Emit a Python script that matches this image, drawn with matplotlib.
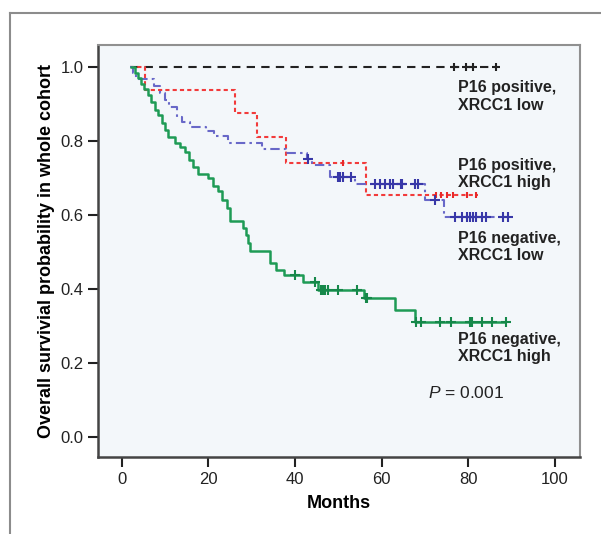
import numpy as np
import matplotlib
matplotlib.use("Agg")
from matplotlib import pyplot as plt
from matplotlib.lines import Line2D

plt.rcParams['font.family'] = ['Liberation Sans', 'DejaVu Sans']
plt.rcParams['mathtext.fontset'] = 'custom'
plt.rcParams['mathtext.it'] = 'Liberation Sans:italic'
plt.rcParams['mathtext.rm'] = 'Liberation Sans'

# Kaplan-Meier step data (months, survival after the drop)
START = 2.0

blackTimes = []
blackSurv = []
blackEnd = 86.5
blackCensor = [76.7, 79.4, 81.1, 86.5]

redTimes = [5.3, 26.1, 31.2, 37.9, 56.5]
redSurv = [0.9375, 0.875, 0.8125, 0.74, 0.655]
redEnd = 82.2
redCensor = [51.0, 72.5, 73.8, 75.0, 76.5, 79.6, 81.9]

blueTimes = [2.5, 3.3, 7.4, 8.8, 10.0, 10.8, 12.8, 13.8, 15.7, 19.5, 21.3, 24.5,
             32.4, 38.0, 42.7, 44.0, 48.0, 53.8, 70.0, 74.4]
blueSurv = [0.985, 0.967, 0.95, 0.93, 0.91, 0.893, 0.866, 0.852, 0.838, 0.828, 0.814, 0.794,
            0.78, 0.767, 0.753, 0.735, 0.703, 0.683, 0.641, 0.595]
blueEnd = 89.2
blueCensor = [43.0, 50.0, 50.5, 51.0, 53.0, 58.4, 59.6, 60.7, 61.9, 62.7, 64.4, 64.8,
              67.7, 68.4, 72.3, 76.9, 78.5, 79.6, 80.4, 81.1, 81.9, 83.1, 84.2, 88.1, 89.2]

greenTimes = [3.0, 3.8, 4.5, 5.2, 6.0, 6.8, 7.6, 8.4, 9.2, 9.9, 10.7, 12.2, 13.4, 14.6,
              15.6, 16.5, 17.6, 19.9, 21.0, 22.3, 23.2, 24.2, 25.0, 28.0, 28.6, 29.2, 29.6,
              34.2, 35.7, 37.4, 41.9, 45.3, 56.0, 63.2, 67.7]
greenSurv = [0.985, 0.97, 0.955, 0.94, 0.925, 0.905, 0.885, 0.87, 0.85, 0.83, 0.81, 0.795,
             0.785, 0.77, 0.75, 0.73, 0.71, 0.70, 0.68, 0.665, 0.64, 0.62, 0.585, 0.565,
             0.545, 0.525, 0.503, 0.47, 0.452, 0.438, 0.42, 0.398, 0.375, 0.343, 0.312]
greenEnd = 88.8
greenCensor = [40.0, 44.6, 46.1, 46.5, 46.9, 47.6, 50.0, 54.2, 56.3, 56.7, 68.0, 69.0,
               73.4, 76.1, 80.4, 80.8, 83.2, 85.6, 88.8]

groupLabels = ["P16 positive,\nXRCC1 low", "P16 positive,\nXRCC1 high",
               "P16 negative,\nXRCC1 low", "P16 negative,\nXRCC1 high"]
labelPos = [(77.6, 0.965), (77.6, 0.755), (77.6, 0.557), (77.6, 0.285)]

xTicks = [0, 20, 40, 60, 80, 100]
yTicks = [0.0, 0.2, 0.4, 0.6, 0.8, 1.0]


def buildSteps(times, surv, end):
    x = np.array([START] + list(times) + [end])
    y = np.array([1.0] + list(surv) + [surv[-1] if surv else 1.0])
    return x, y


def survAt(x, y, t):
    idx = np.searchsorted(x, t, side="right") - 1
    return y[np.clip(idx, 0, len(y) - 1)]


def plotGroup(axis, times, surv, end, censor, color, markColor, dashes, lw, marker, ms):
    x, y = buildSteps(times, surv, end)
    line, = axis.step(x, y, where="post", color=color, lw=lw, solid_capstyle="butt")
    if dashes is not None:
        line.set_dashes(dashes)
    c = np.array(censor)
    axis.plot(c, survAt(x, y, c), linestyle="none", marker=marker, ms=ms,
              mew=1.5, color=markColor)


if __name__ == '__main__':
    figure = plt.figure(figsize=(6.01, 5.34), dpi=100)
    axis = figure.add_axes([0.163, 0.1442, 0.802, 0.7715])
    axis.set_facecolor("#F3F7FA")

    plotGroup(axis, blackTimes, blackSurv, blackEnd, blackCensor,
              "#222222", "#222222", (4, 3), 1.5, "+", 6)
    plotGroup(axis, redTimes, redSurv, redEnd, redCensor,
              "#F23B3B", "#E82828", (2, 1.5), 1.5, "|", 5)
    plotGroup(axis, blueTimes, blueSurv, blueEnd, blueCensor,
              "#6868C8", "#3838A8", (4.5, 2, 1.2, 2), 1.5, "+", 6.5)
    plotGroup(axis, greenTimes, greenSurv, greenEnd, greenCensor,
              "#1E9B55", "#16884A", None, 1.8, "+", 6.5)

    for label, (lx, ly) in zip(groupLabels, labelPos):
        axis.text(lx, ly, label, fontsize=11.5, fontweight="bold", color="#222222",
                  va="top", ha="left", linespacing=1.2)
    axis.text(70.7, 0.119, r"$P$ = 0.001", fontsize=12.5, color="#222222",
              va="center", ha="left")

    axis.set_xlim(-5.5, 105.8)
    axis.set_ylim(-0.054, 1.06)
    axis.set_xticks(xTicks)
    axis.set_yticks(yTicks)
    axis.set_yticklabels(["%.1f" % v for v in yTicks])
    axis.tick_params(direction="out", length=7, width=1.5, labelsize=12,
                     colors="#222222")
    axis.set_xlabel("Months", fontsize=13, fontweight="bold", labelpad=6)
    axis.set_ylabel("Overall survivial probability in whole cohort", fontsize=13,
                    fontweight="bold", labelpad=4)

    for side in ["left", "bottom"]:
        axis.spines[side].set_color("#444444")
        axis.spines[side].set_linewidth(1.8)
    for side in ["top", "right"]:
        axis.spines[side].set_color("#909090")
        axis.spines[side].set_linewidth(1.5)

    # outer panel frame
    figure.add_artist(Line2D([0.016, 1.0], [0.976, 0.976], color="#8c8c8c", lw=1.5))
    figure.add_artist(Line2D([0.016, 0.016], [0.0, 0.976], color="#8c8c8c", lw=1.5))

    figure.savefig("out.png", dpi=100)
